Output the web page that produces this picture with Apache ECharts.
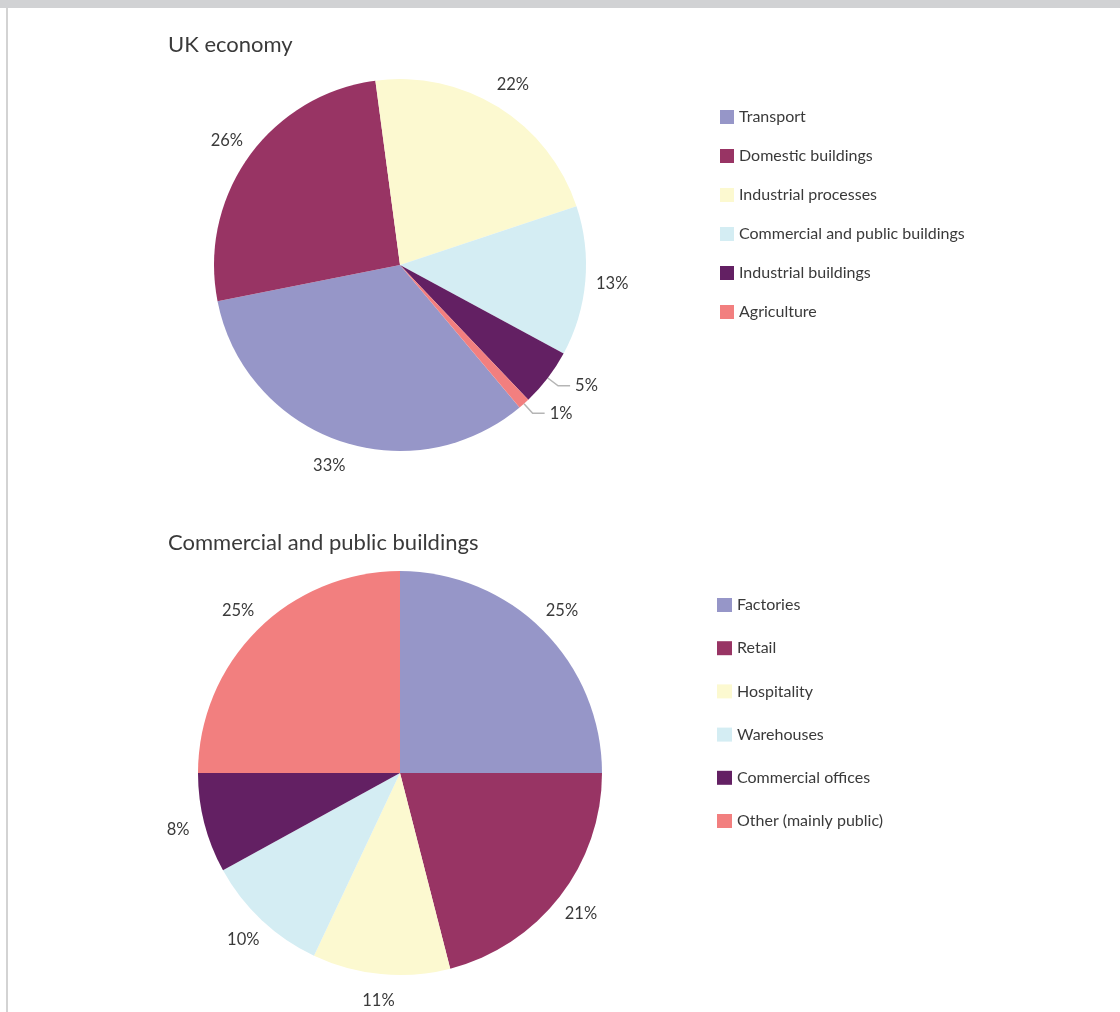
<!DOCTYPE html>
<html>
<head>
<meta charset="utf-8">
<title>UK emissions by sector</title>
<script src="https://cdn.jsdelivr.net/npm/echarts@6/dist/echarts.min.js"></script>
<style>
  html, body { margin: 0; padding: 0; background: #fff; }
  #frame { position: absolute; left: 0; top: 0; width: 1120px; height: 1012px; }
  #band { position: absolute; left: 0; top: 0; width: 1120px; height: 8px; background: #d1d2d4; }
  #rule { position: absolute; left: 6px; top: 8px; width: 2px; height: 1004px; background: #d3d3d3; }
  #chart { position: absolute; left: 0; top: 0; width: 1120px; height: 1012px; }
</style>
</head>
<body>
<div id="frame"><div id="band"></div><div id="rule"></div></div>
<div id="chart"></div>
<script>
// Share of emissions (%), whole economy
const economySectors = ['Transport', 'Domestic buildings', 'Industrial processes',
  'Commercial and public buildings', 'Industrial buildings', 'Agriculture'];
const economyShares = [33, 26, 22, 13, 5, 1];

// Share of emissions (%), commercial and public buildings
const buildingTypes = ['Factories', 'Retail', 'Hospitality', 'Warehouses',
  'Commercial offices', 'Other (mainly public)'];
const buildingShares = [25, 21, 11, 10, 8, 25];

const palette = ['#9696c8', '#983464', '#fcf9d0', '#d4edf3', '#632063', '#f27f7f'];

// Slices too thin for an in-ring label get a leader line instead
const smallSlice = v => v <= 5;

const FONT = 'Lato';
const TEXT = '#3a3a3a';

function pieData(names, values, withLeaderLabels) {
  return names.map((n, i) => {
    const item = { name: n, value: values[i], itemStyle: { color: palette[i] } };
    if (withLeaderLabels) {
      item.label = { show: smallSlice(values[i]) };
      item.labelLine = { show: smallSlice(values[i]) };
    }
    return item;
  });
}

// Transparent ring just outside a pie; its centred labels sit at a fixed gap from the rim
function labelRing(id, names, values, center, r, start, skipSmall) {
  return {
    id: id, type: 'pie', center: center, radius: [r, r + 48],
    startAngle: start, silent: true, z: 1,
    itemStyle: { color: 'rgba(0,0,0,0)', borderWidth: 0 },
    emphasis: { disabled: true },
    label: {
      show: true, position: 'inside', formatter: '{c}%',
      color: TEXT, fontFamily: FONT, fontSize: 16.5
    },
    labelLine: { show: false },
    data: names.map((n, i) => ({
      name: n, value: values[i],
      label: { show: !(skipSmall && smallSlice(values[i])) }
    }))
  };
}

const topCenter = [400, 265], topR = 186, topStart = 310;
const botCenter = [400, 773], botR = 202, botStart = 90;

const chart = echarts.init(document.getElementById('chart'), null, { renderer: 'canvas' });

const titleStyle = { fontFamily: FONT, fontSize: 22, fontWeight: 'normal', color: TEXT };
const legendText = { fontFamily: FONT, fontSize: 16, color: TEXT };

chart.setOption({
  animation: false,
  title: [
    { text: 'UK economy', left: 163, top: 29, textStyle: titleStyle },
    { text: 'Commercial and public buildings', left: 163, top: 527, textStyle: titleStyle }
  ],
  legend: [
    {
      orient: 'vertical', left: 720, top: 109, padding: 0,
      itemWidth: 14, itemHeight: 14, itemGap: 23,
      icon: 'rect', data: economySectors, selectedMode: false, textStyle: legendText
    },
    {
      orient: 'vertical', left: 717, top: 597, padding: 0,
      itemWidth: 15, itemHeight: 14, itemGap: 27.2,
      icon: 'rect', data: buildingTypes, selectedMode: false, textStyle: legendText
    }
  ],
  series: [
    {
      id: 'economyPie', type: 'pie', center: topCenter, radius: topR,
      startAngle: topStart, clockwise: true, z: 2,
      avoidLabelOverlap: false,
      label: { show: false, position: 'outside', formatter: '{c}%',
        color: TEXT, fontFamily: FONT, fontSize: 16.5 },
      labelLine: { show: false, length: 13, length2: 12,
        lineStyle: { color: '#b5b5b5', width: 1.5 } },
      itemStyle: { borderWidth: 0 },
      data: pieData(economySectors, economyShares, true)
    },
    labelRing('economyLabels', economySectors, economyShares, topCenter, topR, topStart, true),
    {
      id: 'buildingsPie', type: 'pie', center: botCenter, radius: botR,
      startAngle: botStart, clockwise: true, z: 2,
      label: { show: false },
      labelLine: { show: false },
      itemStyle: { borderWidth: 0 },
      data: pieData(buildingTypes, buildingShares, false)
    },
    labelRing('buildingsLabels', buildingTypes, buildingShares, botCenter, botR, botStart, false)
  ]
});
</script>
</body>
</html>
